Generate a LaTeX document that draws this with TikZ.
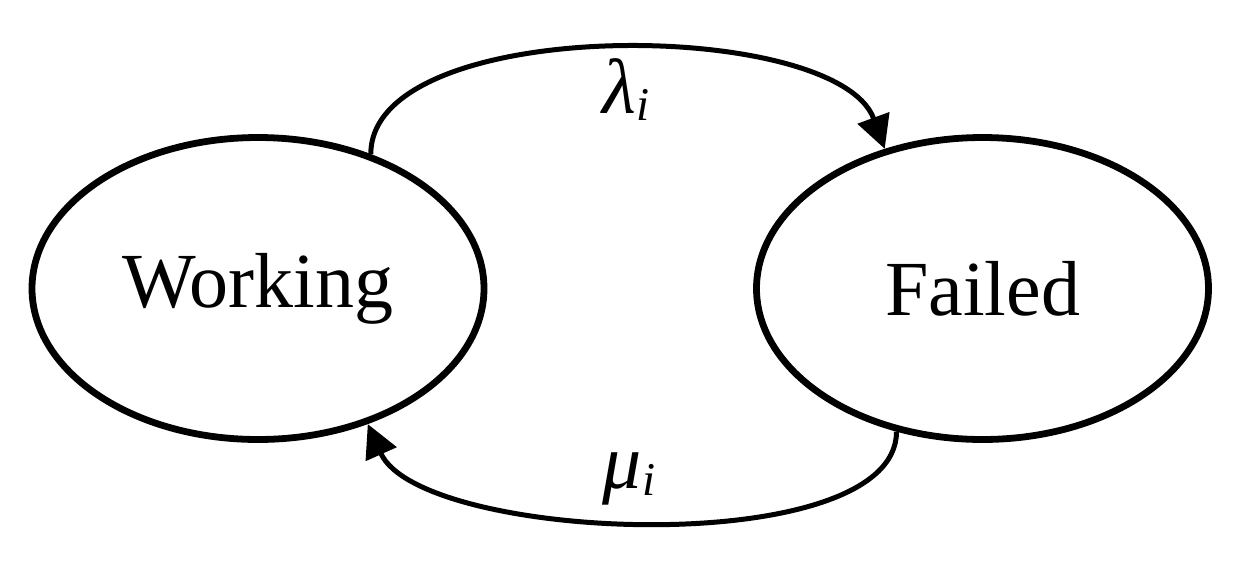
\documentclass[tikz,border=0pt]{standalone}
\usepackage{fontspec}
\setmainfont{Liberation Serif}
\usetikzlibrary{arrows.meta,shapes.geometric}
\tikzset{
  state/.style={draw, ellipse, line width=6.8pt, minimum width=452pt, minimum height=302pt,
    inner sep=0pt, font=\fontsize{78}{90}\selectfont},
  trans/.style={line width=5pt, -{Triangle[length=33pt,width=33pt]}},
  rate/.style={anchor=base west, inner sep=0pt, font=\fontsize{78}{90}\selectfont\itshape},
}
\newcommand{\subi}{\kern1pt\raisebox{-7pt}{\fontsize{47}{52}\selectfont\itshape i}}
\begin{document}
\begin{tikzpicture}[x=1pt,y=-1pt]
\useasboundingbox (0,0) rectangle (1246,568);
\node[state] (W) at (258,288.5) {Working};
\node[state] (F) at (982.5,288.5) {Failed};
\draw[trans] (W.50) .. controls +(0,-140) and +(-48,-131.6) .. (F.125);
\draw[trans] (F.239.5) .. controls +(0,130) and +(53,118.6) .. (W.309.4);
\node[rate] (lam) at (602,113) {λ\subi};
\node[rate] (mu) at (602,488) {μ\subi};
\end{tikzpicture}
\end{document}
